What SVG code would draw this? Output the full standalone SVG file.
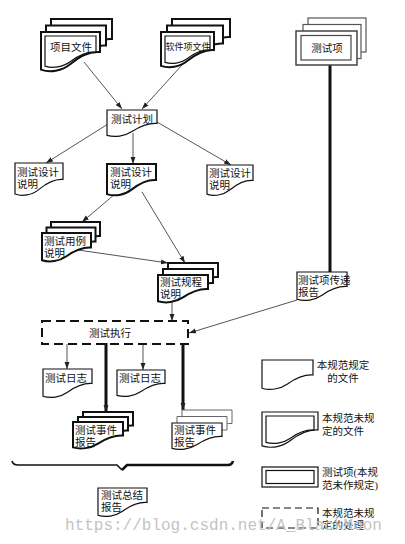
<svg xmlns="http://www.w3.org/2000/svg" xmlns:xlink="http://www.w3.org/1999/xlink" width="405" height="544" viewBox="0 0 405 544">
<style>
  .t { font-family: "Liberation Serif", "Noto Sans CJK SC", serif; font-size: 10.5px; fill: #111; }
  .ts { font-size: 9px; }
  .mid { text-anchor: middle; }
  .d { fill: #fff; stroke: #111; stroke-width: 1.2; }
  .dh { fill: #fff; stroke: #111; stroke-width: 2; }
  .dl { fill: #fff; stroke: #666; stroke-width: 1; }
  .c { stroke: #555; stroke-width: 1; fill: none; marker-end: url(#ah); }
  .ck { stroke: #111; stroke-width: 3; fill: none; }
  .cka { stroke: #111; stroke-width: 3; fill: none; marker-end: url(#ah); }
  .wm { font-family: "Liberation Mono", monospace; font-size: 16px; fill: #c4c4c4; }
</style>
<defs>
  <path id="doc" vector-effect="non-scaling-stroke" d="M0,0 H1 V0.5 C0.8,0.48 0.65,0.62 0.5,0.8 C0.35,0.98 0.15,1.02 0,0.94 Z"/>
  <marker id="ah" viewBox="0 0 10 10" refX="10" refY="5" markerWidth="7" markerHeight="7" orient="auto" markerUnits="userSpaceOnUse">
    <path d="M0,1.5 L10,5 L0,8.5 Z" fill="#222"/>
  </marker>
</defs>

<g id="connectors">
  <line class="c" x1="84" y1="62" x2="122" y2="109"/>
  <line class="c" x1="182" y1="65" x2="142" y2="109"/>
  <line class="c" x1="108" y1="124" x2="46" y2="163"/>
  <line class="c" x1="133" y1="133" x2="133" y2="164"/>
  <line class="c" x1="157" y1="122" x2="231" y2="165"/>
  <line class="c" x1="115" y1="194" x2="82" y2="222"/>
  <line class="c" x1="142" y1="192" x2="185" y2="263"/>
  <line class="c" x1="78" y1="250" x2="168" y2="263"/>
  <line class="c" x1="172" y1="302" x2="172" y2="321"/>
  <line class="c" x1="297" y1="300" x2="189" y2="333"/>
  <line class="ck" x1="330" y1="65" x2="330" y2="272"/>
  <line class="c" x1="67" y1="344" x2="67" y2="369"/>
  <line class="cka" x1="106" y1="343" x2="106" y2="412"/>
  <line class="c" x1="143" y1="344" x2="143" y2="370"/>
  <line class="cka" x1="183" y1="343" x2="183" y2="410"/>
</g>

<g id="n-xiangmu">
  <use href="#doc" class="dh" transform="translate(51,19) scale(61,40)"/>
  <use href="#doc" class="dh" transform="translate(46,25.5) scale(60,40)"/>
  <use href="#doc" class="dh" transform="translate(41,32) scale(59,40)"/>
  <use href="#doc" class="d" transform="translate(45,36) scale(51,32)"/>
  <text class="t mid" x="71" y="51">项目文件</text>
</g>

<g id="n-ruanjian">
  <use href="#doc" class="dh" transform="translate(172,19) scale(58,36)"/>
  <use href="#doc" class="dh" transform="translate(167,25.5) scale(56,36)"/>
  <use href="#doc" class="dh" transform="translate(161,32) scale(53,36)"/>
  <use href="#doc" class="d" transform="translate(165,36) scale(45,28)"/>
  <text class="t ts mid" x="188" y="50">软件项文件</text>
</g>

<g id="n-ceshixiang">
  <rect x="308" y="18" width="58" height="34" fill="#fff" stroke="#555" stroke-width="1.2"/>
  <rect x="303" y="24.5" width="58" height="34" fill="#fff" stroke="#555" stroke-width="1.2"/>
  <rect x="296" y="31" width="61" height="34" fill="#fff" stroke="#444" stroke-width="1.5"/>
  <rect x="301" y="35.5" width="50" height="24.5" fill="#fff" stroke="#444" stroke-width="1.2"/>
  <text class="t mid" x="327" y="52">测试项</text>
</g>

<g id="n-jihua">
  <use href="#doc" class="d" transform="translate(107,110) scale(50,27)"/>
  <text class="t mid" x="132" y="123">测试计划</text>
</g>

<g id="n-sheji1">
  <use href="#doc" class="d" transform="translate(15,163) scale(48,33)"/>
  <text class="t" x="17" y="176">测试设计</text>
  <text class="t" x="17" y="188">说明</text>
</g>

<g id="n-sheji2">
  <use href="#doc" class="dh" transform="translate(107,164) scale(49,32)"/>
  <text class="t" x="110" y="176">测试设计</text>
  <text class="t" x="110" y="188">说明</text>
</g>

<g id="n-sheji3">
  <use href="#doc" class="d" transform="translate(207,165) scale(46,31)"/>
  <text class="t" x="209" y="177">测试设计</text>
  <text class="t" x="209" y="189">说明</text>
</g>

<g id="n-yongli">
  <use href="#doc" class="dh" transform="translate(51,222) scale(49,28)"/>
  <use href="#doc" class="dh" transform="translate(46.5,227.5) scale(49,28)"/>
  <use href="#doc" class="dh" transform="translate(42,233) scale(49,29)"/>
  <text class="t" x="44" y="245">测试用例</text>
  <text class="t" x="44" y="257">说明</text>
</g>

<g id="n-guicheng">
  <use href="#doc" class="dh" transform="translate(168,263) scale(50,28)"/>
  <use href="#doc" class="dh" transform="translate(163,269) scale(50,28)"/>
  <use href="#doc" class="dh" transform="translate(158,275) scale(50,28)"/>
  <text class="t" x="160" y="286">测试规程</text>
  <text class="t" x="160" y="298">说明</text>
</g>

<g id="n-chuandi">
  <use href="#doc" class="d" transform="translate(297,272) scale(50,29)"/>
  <text class="t" x="298" y="284">测试项传递</text>
  <text class="t" x="298" y="296">报告</text>
</g>

<g id="n-zhixing">
  <rect x="42" y="321" width="146" height="23" fill="none" stroke="#111" stroke-width="2" stroke-dasharray="9 5"/>
  <text class="t mid" x="110" y="337">测试执行</text>
</g>

<g id="n-rizhi1">
  <use href="#doc" class="d" transform="translate(43,369) scale(49,29)"/>
  <text class="t" x="45" y="382">测试日志</text>
</g>

<g id="n-rizhi2">
  <use href="#doc" class="d" transform="translate(117,370) scale(48,27)"/>
  <text class="t" x="119" y="382">测试日志</text>
</g>

<g id="n-shijian1">
  <use href="#doc" class="dh" transform="translate(83,412) scale(50,27)"/>
  <use href="#doc" class="dh" transform="translate(78,417) scale(50,27)"/>
  <use href="#doc" class="dh" transform="translate(73,422) scale(50,27)"/>
  <text class="t" x="75" y="434">测试事件</text>
  <text class="t" x="75" y="446">报告</text>
</g>

<g id="n-shijian2">
  <use href="#doc" class="dl" transform="translate(182,410) scale(50,27)"/>
  <use href="#doc" class="dl" transform="translate(177,416.5) scale(50,27)"/>
  <use href="#doc" class="d" transform="translate(172,423) scale(50,27)"/>
  <text class="t" x="174" y="434">测试事件</text>
  <text class="t" x="174" y="446">报告</text>
</g>

<g id="brace">
  <path d="M12,461 Q13,465 18,465 H117 L122,470" fill="none" stroke="#111" stroke-width="1.6"/>
  <path d="M122,470 L127,465 H228 Q232,465 233,461" fill="none" stroke="#111" stroke-width="2.6"/>
</g>

<g id="n-zongjie">
  <use href="#doc" class="d" transform="translate(98,488) scale(49,29)"/>
  <text class="t" x="101" y="499">测试总结</text>
  <text class="t" x="101" y="511">报告</text>
</g>

<g id="legend">
  <use href="#doc" class="d" transform="translate(262,360) scale(51,30)"/>
  <text class="t mid" x="343" y="369">本规范规定</text>
  <text class="t mid" x="343" y="382">的文件</text>

  <use href="#doc" class="d" transform="translate(262,412) scale(56,36)"/>
  <use href="#doc" class="d" transform="translate(266,416) scale(48,28)"/>
  <text class="t" x="322" y="422">本规范未规</text>
  <text class="t" x="322" y="435">定的文件</text>

  <rect x="262" y="467" width="56" height="20" fill="#fff" stroke="#111" stroke-width="1.2"/>
  <rect x="266" y="470.5" width="48" height="13" fill="#fff" stroke="#111" stroke-width="1.2"/>
  <text class="t" x="322" y="476">测试项(本规</text>
  <text class="t" x="322" y="489">范未作规定)</text>

  <rect x="262" y="508" width="56" height="20" fill="none" stroke="#111" stroke-width="1.2" stroke-dasharray="7 4"/>
  <text class="t" x="322" y="517">本规范未规</text>
  <text class="t" x="322" y="529">定的处理</text>
</g>

<text class="wm" x="65" y="530">https://blog.csdn.net/A_BlackMoon</text>
</svg>
